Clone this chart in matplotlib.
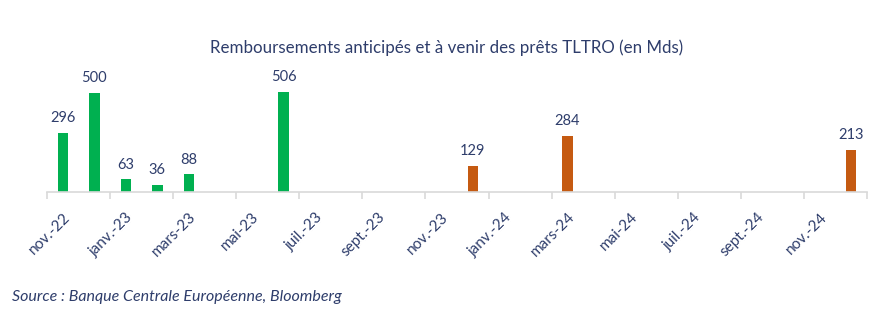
import numpy as np
import matplotlib
matplotlib.use("Agg")
from matplotlib import pyplot as plt

# data
months = ["nov.-22", "déc.-22", "janv.-23", "févr.-23", "mars-23", "avr.-23",
          "mai-23", "juin-23", "juil.-23", "août-23", "sept.-23", "oct.-23",
          "nov.-23", "déc.-23", "janv.-24", "févr.-24", "mars-24", "avr.-24",
          "mai-24", "juin-24", "juil.-24", "août-24", "sept.-24", "oct.-24",
          "nov.-24", "déc.-24"]
past_months = ["nov.-22", "déc.-22", "janv.-23", "févr.-23", "mars-23", "juin-23"]
past_values = [296, 500, 63, 36, 88, 506]
future_months = ["déc.-23", "mars-24", "déc.-24"]
future_values = [129, 284, 213]

green = "#00B050"
orange = "#C55A11"
txt = "#2E3D6B"

plt.rcParams["font.family"] = ["Lato", "DejaVu Sans"]

fig = plt.figure(figsize=(8.92, 3.21), dpi=100)
ax = fig.add_axes([0.0527, 0.402, 0.9193, 0.371])

def bars(names, vals, color):
    xs = [months.index(m) for m in names]
    ax.bar(xs, vals, width=0.33, color=color)
    for x, v in zip(xs, vals):
        ax.text(x, v + 40, str(v), ha="center", va="bottom",
                fontsize=10.5, color=txt)

bars(past_months, past_values, green)
bars(future_months, future_values, orange)

ax.set_xlim(-0.5, len(months) - 0.5)
ax.set_ylim(0, 600)
ax.set_yticks([])
for s in ["top", "right", "left"]:
    ax.spines[s].set_visible(False)
ax.spines["bottom"].set_color("#D9D9D9")
ax.spines["bottom"].set_linewidth(1.2)

# tick marks between categories, labels every two months
edges = list(np.arange(-0.5, len(months) - 1, 2)) + [len(months) - 0.5]
ax.set_xticks(edges)
ax.set_xticklabels([])
ax.tick_params(axis="x", which="major", length=5, color="#D9D9D9", width=1.2)
ax.set_xticks(range(0, len(months), 2), minor=True)
ax.set_xticklabels(months[::2], minor=True, rotation=45, ha="right",
                   rotation_mode="anchor", fontsize=11, color=txt)
ax.tick_params(axis="x", which="minor", length=0, pad=13)

fig.text(0.501, 0.852, "Remboursements anticipés et à venir des prêts TLTRO (en Mds)",
         ha="center", va="center", fontsize=12.2, color=txt)
fig.text(0.013, 0.075, "Source : Banque Centrale Européenne, Bloomberg",
         ha="left", va="center", fontsize=11.5, style="italic", color=txt)

fig.savefig("out.png", dpi=100)
